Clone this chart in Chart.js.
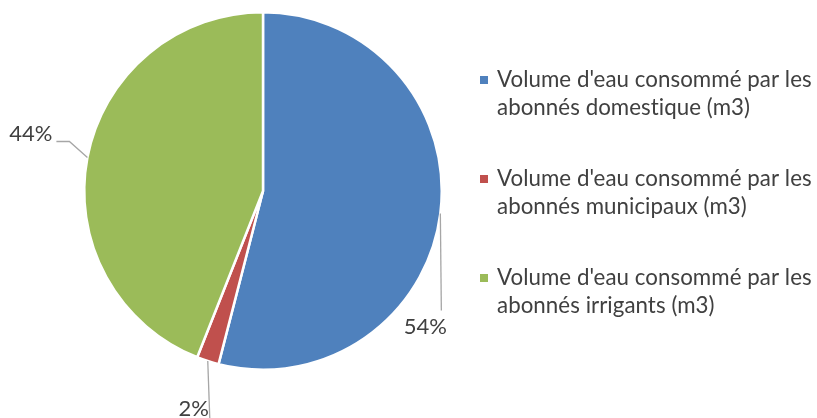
<!DOCTYPE html>
<html>
<head>
<meta charset="utf-8">
<script src="https://cdn.jsdelivr.net/npm/chart.js@4/dist/chart.umd.min.js"></script>
<style>
  html, body { margin: 0; padding: 0; background: #fff; }
  #wrap { width: 817px; height: 418px; position: relative; }
</style>
</head>
<body>
<div id="wrap"><canvas id="pie"></canvas></div>
<script>
const categories = [
  "Volume d'eau consommé par les abonnés domestique (m3)",
  "Volume d'eau consommé par les abonnés municipaux (m3)",
  "Volume d'eau consommé par les abonnés irrigants (m3)"
];
const legendLines = [
  ["Volume d'eau consommé par les", "abonnés domestique (m3)"],
  ["Volume d'eau consommé par les", "abonnés municipaux (m3)"],
  ["Volume d'eau consommé par les", "abonnés irrigants (m3)"]
];
const shares = [54, 2, 44];
const colors = ['#4F81BD', '#C0504D', '#9BBB59'];

const FONT = 'Lato, "Open Sans", sans-serif';

// leader lines + percentage labels, offsets relative to slice edge midpoint
const labelPlugin = {
  id: 'pieLabels',
  afterDatasetsDraw(chart) {
    const ctx = chart.ctx;
    const meta = chart.getDatasetMeta(0);
    const layout = [
      { line: [[0, 0], [1, 97]], text: [-15, 114], align: 'center' },
      { line: [[0, 0], [2, 57]], text: [-14, 48], align: 'center' },
      { line: [[0, 0], [-18, -16], [-31, -16]], text: [-35, -24], align: 'right' }
    ];
    ctx.save();
    meta.data.forEach((arc, i) => {
      const p = arc.getProps(['x', 'y', 'startAngle', 'endAngle', 'outerRadius'], true);
      const mid = (p.startAngle + p.endAngle) / 2;
      const ax = p.x + Math.cos(mid) * p.outerRadius;
      const ay = p.y + Math.sin(mid) * p.outerRadius;
      const l = layout[i];
      ctx.strokeStyle = '#A6A6A6';
      ctx.lineWidth = 1.3;
      ctx.beginPath();
      l.line.forEach((o, k) => {
        if (k === 0) ctx.moveTo(ax + o[0], ay + o[1]);
        else ctx.lineTo(ax + o[0], ay + o[1]);
      });
      ctx.stroke();
      ctx.fillStyle = '#404040';
      ctx.font = '22px ' + FONT;
      ctx.textAlign = l.align;
      ctx.textBaseline = 'middle';
      ctx.fillText(shares[i] + '%', ax + l.text[0], ay + l.text[1]);
    });
    ctx.restore();
  }
};

const legendPlugin = {
  id: 'sideLegend',
  afterDraw(chart) {
    const ctx = chart.ctx;
    ctx.save();
    ctx.font = '22.3px ' + FONT;
    ctx.letterSpacing = '0.05px'; // keeps "ti" from turning into a ligature
    ctx.textBaseline = 'middle';
    ctx.textAlign = 'left';
    legendLines.forEach((lines, i) => {
      const y0 = 80 + i * 99;
      ctx.fillStyle = colors[i];
      ctx.fillRect(480, y0 - 4, 8, 8);
      ctx.fillStyle = '#404040';
      lines.forEach((t, k) => ctx.fillText(t, 497, y0 + k * 28));
    });
    ctx.restore();
  }
};

new Chart(document.getElementById('pie'), {
  type: 'pie',
  data: {
    labels: categories,
    datasets: [{
      data: shares,
      backgroundColor: colors,
      borderColor: '#ffffff',
      borderWidth: 2.5
    }]
  },
  options: {
    responsive: true,
    maintainAspectRatio: false,
    animation: false,
    layout: { padding: { left: 83, right: 374, top: 11, bottom: 47 } },
    plugins: {
      legend: { display: false },
      tooltip: { enabled: false }
    }
  },
  plugins: [labelPlugin, legendPlugin]
});
</script>
</body>
</html>
